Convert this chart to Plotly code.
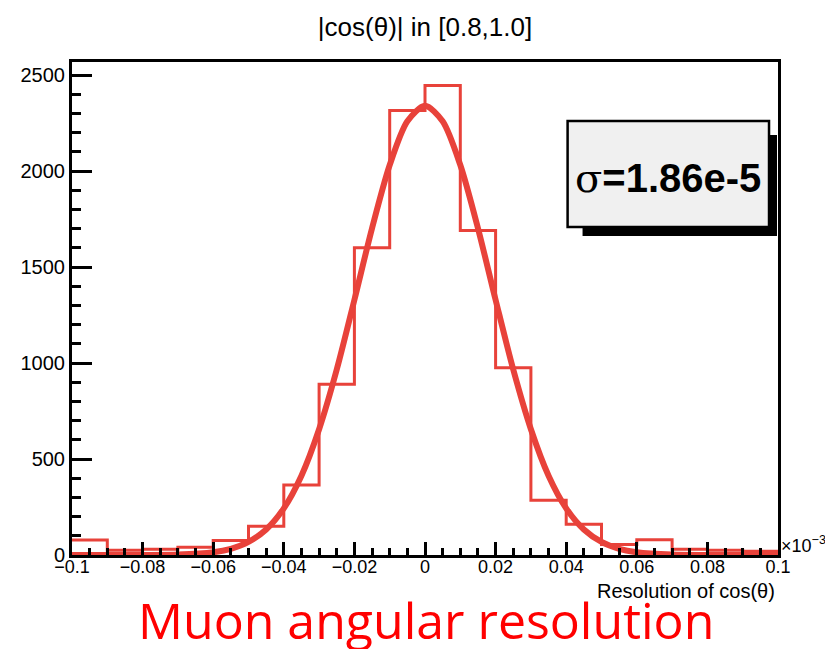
import plotly.graph_objects as go

# ---- data ----
bin_edges = [-0.10, -0.09, -0.08, -0.07, -0.06, -0.05, -0.04, -0.03, -0.02, -0.01, 0.00,
             0.01, 0.02, 0.03, 0.04, 0.05, 0.06, 0.07, 0.08, 0.09, 0.10]
bin_counts = [78, 25, 30, 40, 75, 150, 365, 890, 1600, 2315, 2445,
              1690, 975, 285, 160, 55, 80, 30, 25, 20]

fit_x = [-0.100, -0.090, -0.080, -0.070, -0.060, -0.055, -0.050, -0.045, -0.040, -0.035,
         -0.030, -0.025, -0.020, -0.015, -0.010, -0.005, 0.000, 0.005, 0.010, 0.015,
         0.020, 0.025, 0.030, 0.035, 0.040, 0.045, 0.050, 0.055, 0.060, 0.070,
         0.080, 0.090, 0.100]
fit_y = [0, 0, 0, 2, 14, 32, 68, 133, 243, 413,
         655, 966, 1329, 1702, 2031, 2259, 2340, 2259, 2031, 1702,
         1329, 966, 655, 413, 243, 133, 68, 32, 14, 2,
         0, 0, 0]

x_tickvals = [-0.10, -0.08, -0.06, -0.04, -0.02, 0.00, 0.02, 0.04, 0.06, 0.08, 0.10]
x_ticktext = ["\u22120.1", "\u22120.08", "\u22120.06", "\u22120.04", "\u22120.02", "0",
              "0.02", "0.04", "0.06", "0.08", "0.1"]
y_tickvals = [0, 500, 1000, 1500, 2000, 2500]
y_ticktext = ["0", "500", "1000", "1500", "2000", "2500"]

title_text = "|cos(\u03b8)| in [0.8,1.0]"
x_title = "Resolution of cos(\u03b8)"
sigma_label = "1.86e-5"
caption = "Muon angular resolution"

RED = "#E8423A"
OFF = 8  # page body margin
W, H = 833 - OFF, 649 - OFF
L, T = 70 - OFF, 62 - OFF
R = W - (778 - OFF)
B = H - (555 - OFF)
PW, PH = W - L - R, H - T - B


def px(xp):
    return (xp - OFF - L) / PW


def py(yp):
    return (H - B - (yp - OFF)) / PH


fig = go.Figure()
fig.add_trace(go.Scatter(
    x=bin_edges, y=bin_counts + [bin_counts[-1]], mode="lines",
    line=dict(shape="hv", color=RED, width=3), hoverinfo="skip", showlegend=False))
fig.add_trace(go.Scatter(
    x=fit_x, y=fit_y, mode="lines",
    line=dict(shape="spline", smoothing=0.8, color=RED, width=6),
    hoverinfo="skip", showlegend=False))

font = "Liberation Sans, Arial, Helvetica, sans-serif"

fig.update_layout(
    width=W, height=H,
    margin=dict(l=L, r=R, t=T, b=B),
    paper_bgcolor="white", plot_bgcolor="white",
    font=dict(family=font, color="black", size=18),
    title=dict(text=title_text, x=0.5, xref="paper", xanchor="center",
               y=1 - (27 - OFF) / H, yanchor="middle", yref="container",
               font=dict(family=font, size=26, color="black")),
    xaxis=dict(range=[-0.1, 0.1], showgrid=False, zeroline=False,
               showline=True, mirror=True, linecolor="black", linewidth=3,
               ticks="inside", ticklen=13, tickwidth=2.5, tickcolor="black",
               tickvals=x_tickvals, ticktext=x_ticktext, ticklabelstandoff=-7,
               tickfont=dict(family=font, size=18, color="black"),
               minor=dict(ticks="inside", dtick=0.005, tick0=0, ticklen=7,
                          tickwidth=2.5, tickcolor="black", showgrid=False)),
    yaxis=dict(range=[0, 2568], showgrid=False, zeroline=False,
               showline=True, mirror=True, linecolor="black", linewidth=3,
               ticks="inside", ticklen=20, tickwidth=2.5, tickcolor="black",
               tickvals=y_tickvals, ticktext=y_ticktext,
               tickfont=dict(family=font, size=20, color="black"),
               minor=dict(ticks="inside", dtick=100, tick0=0, ticklen=9,
                          tickwidth=2.5, tickcolor="black", showgrid=False)),
)

# sigma box with shadow
fig.add_shape(type="rect", xref="paper", yref="paper",
              x0=px(582), x1=px(777), y0=py(236), y1=py(135),
              fillcolor="black", line=dict(width=0), layer="above")
fig.add_shape(type="rect", xref="paper", yref="paper",
              x0=px(567), x1=px(769), y0=py(227), y1=py(121),
              fillcolor="#f0f0f0", line=dict(color="black", width=2.5), layer="above")
fig.add_annotation(xref="paper", yref="paper", x=px(668), y=py(178),
                   xanchor="center", yanchor="middle", showarrow=False,
                   text="<span style='font-family:DejaVu Serif;font-weight:normal'>\u03c3</span><b>=" + sigma_label + "</b>",
                   font=dict(family=font, size=40, color="black"))

# x axis title, exponent label
fig.add_annotation(xref="paper", yref="paper", x=px(777), y=py(591),
                   xanchor="right", yanchor="middle", showarrow=False,
                   text=x_title, font=dict(family=font, size=20, color="black"))
fig.add_annotation(xref="paper", yref="paper", x=px(779), y=py(544),
                   xanchor="left", yanchor="middle", showarrow=False,
                   text="\u00d710<sup>\u22123</sup>", font=dict(family=font, size=18, color="black"))

# caption
fig.add_annotation(xref="paper", yref="paper", x=px(425), y=py(620),
                   xanchor="center", yanchor="middle", showarrow=False,
                   text=caption, font=dict(family="Open Sans, sans-serif", size=50, color="#FF0000"))

fig.write_html("out.html")
